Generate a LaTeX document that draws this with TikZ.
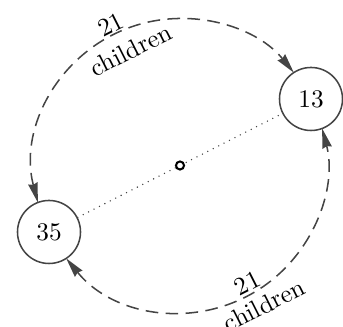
\documentclass[tikz,border=0pt]{standalone}
\usetikzlibrary{arrows.meta}
\definecolor{linegray}{HTML}{444444}
\tikzset{
  state/.style={circle, draw=linegray, line width=0.6pt, minimum size=24.9pt, inner sep=0pt, font=\normalsize},
  tip/.tip={Stealth[length=7.8pt,width=3.8pt,inset=0.6pt]},
  conn/.style={draw=linegray, line width=0.6pt, dash pattern=on 5pt off 2.9pt, tip-tip},
  dotline/.style={draw=linegray, line width=0.6pt, line cap=round, dash pattern=on 0pt off 2.4pt},
  lab/.style={inner sep=0pt, rotate=26.9},
  hub/.style={circle, draw=black, line width=0.8pt, fill=white, minimum size=3.2pt, inner sep=0pt}
}
\begin{document}
\begin{tikzpicture}[x=0.395pt,y=0.395pt]
\useasboundingbox (0,0) rectangle (343,327);
\coordinate (c) at (180,161.5);
\node[state] (n13) at (311,228) {13};
\node[state] (n35) at (49,95) {35};
\draw[dotline] (n35) -- (n13);
\node[hub] (h) at (c) {};
\draw[conn] ([shift={(194.6:146.9)}]c) arc[start angle=194.6, end angle=39.2, radius=146.9];
\draw[conn] ([shift={(219.2:146.9)}]c) arc[start angle=219.2, end angle=374.6, radius=146.9];
\node[lab] (t21) at (110.5,302.5) {21};
\node[lab] (tch) at (130.7,277) {children};
\node[lab] (b21) at (247.3,43.7) {21};
\node[lab] (bch) at (264,22) {children};
\end{tikzpicture}
\end{document}
